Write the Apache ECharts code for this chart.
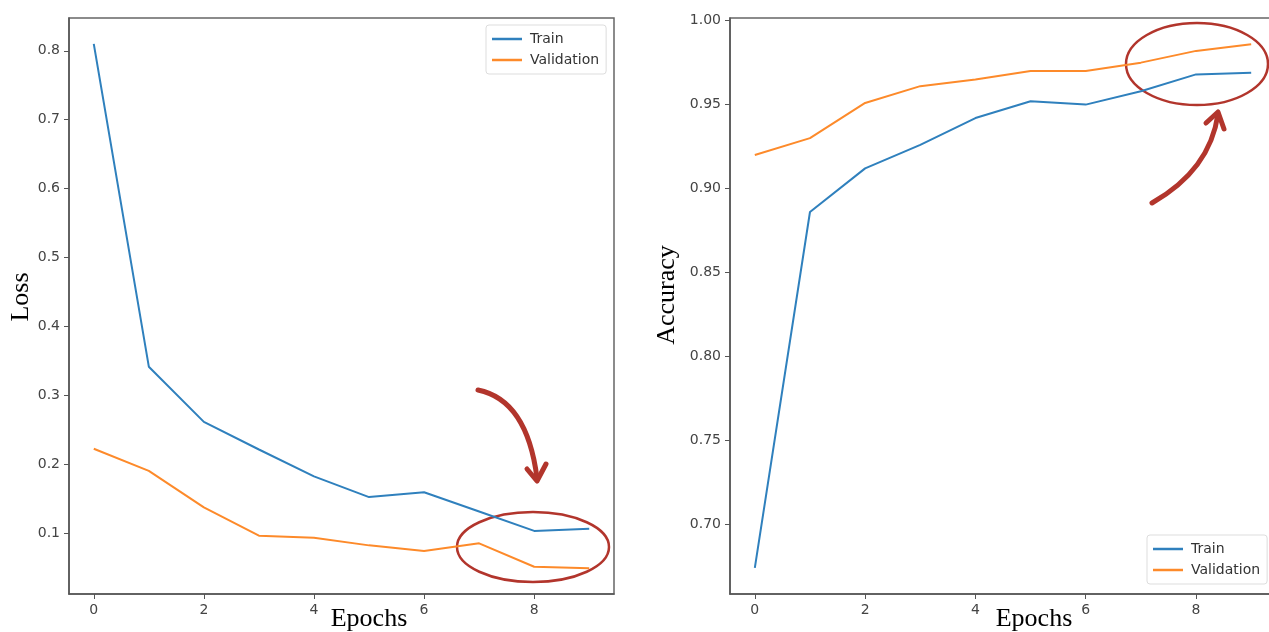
<!DOCTYPE html>
<html>
<head>
<meta charset="utf-8">
<script src="https://cdn.jsdelivr.net/npm/echarts@6/dist/echarts.min.js"></script>
<style>
  html, body { margin: 0; padding: 0; background: #fff; }
  #chart { width: 1269px; height: 632px; }
</style>
</head>
<body>
<div id="chart"></div>
<script>
var epochs = [0, 1, 2, 3, 4, 5, 6, 7, 8, 9];
var lossTrain = [0.81, 0.342, 0.262, 0.222, 0.183, 0.153, 0.160, 0.132, 0.104, 0.107];
var lossVal = [0.223, 0.191, 0.138, 0.097, 0.094, 0.083, 0.075, 0.086, 0.052, 0.050];
var accTrain = [0.674, 0.886, 0.912, 0.926, 0.942, 0.952, 0.950, 0.958, 0.968, 0.969];
var accVal = [0.920, 0.930, 0.951, 0.961, 0.965, 0.970, 0.970, 0.975, 0.982, 0.986];
var xTicks = [0, 2, 4, 6, 8];
var lossTicks = [0.1, 0.2, 0.3, 0.4, 0.5, 0.6, 0.7, 0.8];
var accTicks = [0.70, 0.75, 0.80, 0.85, 0.90, 0.95, 1.00];

var blue = '#2f80bd', orange = '#fd8a2a', red = '#b2352c';
var tickFont = { fontFamily: 'DejaVu Sans', fontSize: 14, color: '#444' };

function pairs(ys) {
  return epochs.map(function (x, i) { return [x, ys[i]]; });
}

function xAxis(idx) {
  return {
    type: 'value', gridIndex: idx, min: -0.45, max: 9.45,
    splitLine: { show: false },
    axisLine: { show: true, onZero: false, lineStyle: { color: '#555', width: 1.5 } },
    axisTick: { show: true, length: 5, lineStyle: { color: '#555' }, customValues: xTicks },
    axisLabel: Object.assign({ margin: 9, customValues: xTicks }, tickFont)
  };
}

function yAxis(idx, min, max, ticks, dec) {
  return {
    type: 'value', gridIndex: idx, min: min, max: max,
    splitLine: { show: false },
    axisLine: { show: true, onZero: false, lineStyle: { color: '#555', width: 1.5 } },
    axisTick: { show: true, length: 5, lineStyle: { color: '#555' }, customValues: ticks },
    axisLabel: Object.assign({ margin: 9, customValues: ticks,
      formatter: function (v) { return v.toFixed(dec); } }, tickFont)
  };
}

function line(name, idx, ys, color) {
  return {
    name: name, type: 'line', xAxisIndex: idx, yAxisIndex: idx,
    data: pairs(ys), symbol: 'none', silent: true,
    lineStyle: { color: color, width: 2 }, itemStyle: { color: color }
  };
}

function legend(left, top) {
  return {
    orient: 'vertical', left: left, top: top,
    data: ['Train', 'Validation'],
    icon: 'rect', itemWidth: 30, itemHeight: 2.5, itemGap: 7,
    padding: [7, 7, 7, 6],
    borderColor: '#ddd', borderWidth: 1, borderRadius: 3,
    backgroundColor: '#fff',
    textStyle: { fontFamily: 'DejaVu Sans', fontSize: 14, color: '#333', padding: [0, 0, 0, 3] }
  };
}

function serif(text, x, y, rot) {
  return {
    type: 'text', x: x, y: y, rotation: rot || 0,
    style: { text: text, fontFamily: 'Liberation Serif', fontSize: 26, fill: '#000',
      align: 'center', verticalAlign: 'middle' }
  };
}

var chart = echarts.init(document.getElementById('chart'), null, { renderer: 'canvas' });

chart.setOption({
  animation: false,
  backgroundColor: '#fff',
  grid: [
    { left: 69, top: 18, width: 545, height: 576, show: true, borderColor: '#666', borderWidth: 1.5,
      outerBoundsMode: 'none' },
    { left: 730, top: 18, width: 546, height: 576, show: true, borderColor: '#666', borderWidth: 1.5,
      outerBoundsMode: 'none' }
  ],
  xAxis: [xAxis(0), xAxis(1)],
  yAxis: [
    yAxis(0, 0.0125, 0.8475, lossTicks, 1),
    yAxis(1, 0.6584, 1.0016, accTicks, 2)
  ],
  legend: [legend(486, 25), legend(1147, 535)],
  series: [
    line('Train', 0, lossTrain, blue),
    line('Validation', 0, lossVal, orange),
    line('Train', 1, accTrain, blue),
    line('Validation', 1, accVal, orange)
  ],
  graphic: [
    serif('Loss', 21, 297, Math.PI / 2),
    serif('Accuracy', 667, 295, Math.PI / 2),
    serif('Epochs', 369, 619),
    serif('Epochs', 1034, 619),
    // red annotations drawn over the plots
    { type: 'ellipse', shape: { cx: 533, cy: 547, rx: 76, ry: 35 },
      style: { fill: null, stroke: red, lineWidth: 2.5 } },
    { type: 'ellipse', shape: { cx: 1197, cy: 64, rx: 71, ry: 41 },
      style: { fill: null, stroke: red, lineWidth: 2.5 } },
    { type: 'bezierCurve', shape: { x1: 478, y1: 390, cpx1: 527, cpy1: 400, x2: 537, y2: 478 },
      style: { fill: null, stroke: red, lineWidth: 5, lineCap: 'round' } },
    { type: 'polyline', shape: { points: [[527, 469], [537, 481], [546, 464]] },
      style: { fill: null, stroke: red, lineWidth: 5, lineCap: 'round', lineJoin: 'round' } },
    { type: 'bezierCurve', shape: { x1: 1152, y1: 203, cpx1: 1210, cpy1: 170, x2: 1218, y2: 114 },
      style: { fill: null, stroke: red, lineWidth: 5, lineCap: 'round' } },
    { type: 'polyline', shape: { points: [[1206, 123], [1218, 112], [1224, 129]] },
      style: { fill: null, stroke: red, lineWidth: 5, lineCap: 'round', lineJoin: 'round' } }
  ]
});
</script>
</body>
</html>
